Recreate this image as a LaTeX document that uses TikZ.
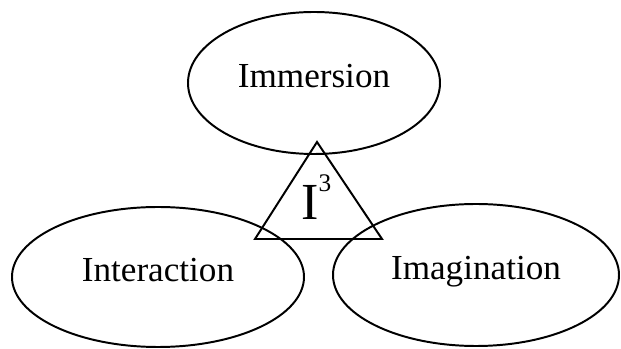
\documentclass[tikz,border=0pt]{standalone}
\usepackage{fontspec}
\setmainfont{Liberation Serif}
\usetikzlibrary{shapes.geometric}

\begin{document}
\begin{tikzpicture}[
  bubble/.style={draw,ellipse,line width=1.4pt,inner sep=0pt,
    text height=0.55cm,text depth=0.3cm,
    font=\fontsize{25}{30}\selectfont},
  tri/.style={line width=1.4pt,line join=miter}
]

% Frame
\fill[white] (0,0) rectangle (15.525,-8.725);
\useasboundingbox (0,0) rectangle (15.525,-8.725);

% Ellipses
\node[bubble,minimum width=6.3cm,minimum height=3.55cm]
  (immersion) at (7.85,-2.075) {Immersion};
\node[bubble,minimum width=7.3cm,minimum height=3.5cm]
  (interaction) at (3.95,-6.925) {Interaction};
\node[bubble,minimum width=7.15cm,minimum height=3.55cm]
  (imagination) at (11.9,-6.875) {Imagination};

% Triangle
\coordinate (apex) at (7.925,-3.55);
\coordinate (baseL) at (6.375,-5.975);
\coordinate (baseR) at (9.55,-5.975);
\draw[tri] (apex) -- (baseL) -- (baseR) -- cycle;

% I^3 label
\node[anchor=base,font=\fontsize{37}{40}\selectfont,inner sep=0pt]
  (icube) at (7.91,-5.5)
  {I\raisebox{0.7cm}{\fontsize{18}{20}\selectfont 3}};

\end{tikzpicture}
\end{document}
